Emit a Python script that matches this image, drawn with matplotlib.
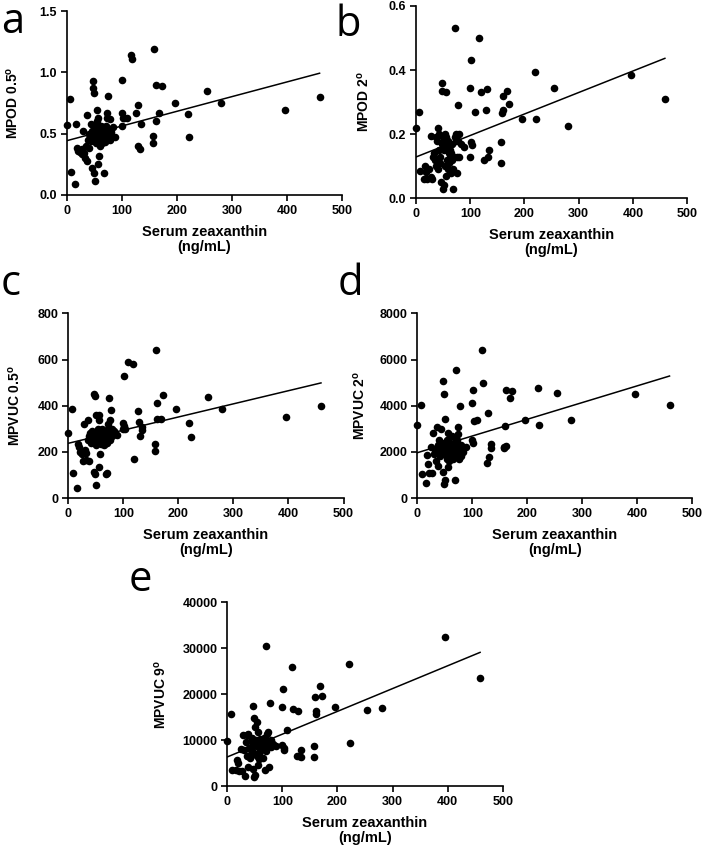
import numpy as np
import matplotlib
matplotlib.use('Agg')
import matplotlib.pyplot as plt

# serum zeaxanthin (ng/mL), shared by all panels
zeaxanthin = [0, 6, 8, 15, 17, 19, 21, 24, 27, 28, 30, 32, 33, 35, 36, 37, 38, 40, 41, 42,
              43, 44, 45, 46, 47, 47, 48, 49, 50, 51, 51, 52, 53, 53, 54, 55, 56, 56, 57, 58,
              59, 60, 60, 61, 62, 63, 64, 65, 66, 67, 68, 69, 70, 71, 72, 73, 74, 75, 76, 77,
              78, 79, 80, 83, 88,
              100, 100, 101, 102, 103, 109, 117, 119, 126, 129, 130, 133, 134,
              157, 157, 159, 161, 161, 168, 172, 196, 220, 222, 254, 280, 396, 459]

mpod_05 = [0.57, 0.78, 0.19, 0.09, 0.58, 0.38, 0.36, 0.35, 0.37, 0.33, 0.52, 0.34, 0.30, 0.40, 0.65, 0.28, 0.45, 0.50, 0.38, 0.47,
           0.58, 0.44, 0.52, 0.22, 0.93, 0.48, 0.87, 0.18, 0.83, 0.11, 0.45, 0.55, 0.42, 0.50, 0.60, 0.69, 0.63, 0.25, 0.46, 0.32,
           0.54, 0.40, 0.49, 0.44, 0.56, 0.47, 0.42, 0.52, 0.55, 0.45, 0.18, 0.50, 0.43, 0.56, 0.67, 0.63, 0.81, 0.47, 0.53, 0.48,
           0.62, 0.45, 0.51, 0.55, 0.47,
           0.67, 0.56, 0.94, 0.63, 0.63, 0.63, 1.14, 1.11, 0.67, 0.73, 0.40, 0.37, 0.58,
           0.48, 0.42, 1.19, 0.90, 0.60, 0.67, 0.89, 0.75, 0.66, 0.47, 0.85, 0.75, 0.69, 0.80]

mpod_2 = [0.22, 0.27, 0.085, 0.06, 0.10, 0.082, 0.06, 0.09, 0.065, 0.195, 0.06, 0.13, 0.14, 0.12, 0.19, 0.10, 0.18, 0.22, 0.09, 0.15,
          0.20, 0.11, 0.13, 0.05, 0.36, 0.17, 0.335, 0.03, 0.19, 0.04, 0.15, 0.18, 0.10, 0.16, 0.20, 0.33, 0.19, 0.07, 0.12, 0.09,
          0.18, 0.11, 0.14, 0.17, 0.13, 0.15, 0.08, 0.14, 0.17, 0.12, 0.03, 0.09, 0.13, 0.53, 0.19, 0.18, 0.20, 0.08, 0.13, 0.29,
          0.18, 0.20, 0.13, 0.17, 0.16,
          0.345, 0.13, 0.43, 0.174, 0.166, 0.27, 0.50, 0.33, 0.12, 0.275, 0.34, 0.13, 0.15,
          0.176, 0.11, 0.267, 0.32, 0.275, 0.335, 0.295, 0.246, 0.395, 0.246, 0.345, 0.225, 0.385, 0.31]

mpvuc_05 = [281, 384, 108, 43, 236, 222, 200, 190, 160, 320, 210, 195, 165, 250, 340, 160, 270, 280, 240, 265,
            290, 255, 275, 114, 452, 255, 443, 103, 360, 57, 230, 270, 240, 285, 300, 358, 337, 135, 250, 192,
            280, 235, 260, 245, 300, 265, 230, 280, 290, 250, 103, 270, 240, 108, 320, 300, 433, 250, 340, 381,
            280, 300, 270, 290, 275,
            300, 327, 528, 310, 298, 589, 579, 171, 375, 331, 270, 309, 295,
            232, 203, 641, 411, 343, 343, 445, 385, 327, 265, 436, 385, 349, 399]

mpvuc_2 = [3150, 4015, 1060, 650, 1845, 1480, 1100, 2200, 1100, 2830, 1900, 2000, 1600, 2100, 3075, 1400, 2300, 2500, 1800, 3005,
           2200, 2400, 2000, 1120, 5060, 2100, 4495, 615, 3440, 790, 1900, 2300, 1700, 2500, 2200, 2800, 2000, 1340, 2300, 1600,
           2100, 1800, 2400, 1900, 2300, 2700, 1700, 2200, 2400, 1900, 760, 2100, 1800, 5535, 2500, 3075, 2785, 1700, 2200, 3990,
           1900, 1800, 2300, 2000, 2200,
           4130, 2500, 4700, 2380, 3320, 3390, 6400, 4990, 1510, 3680, 1770, 2350, 2180,
           2180, 2220, 3120, 4700, 2250, 4350, 4640, 3360, 4770, 3150, 4550, 3360, 4520, 4015]

mpvuc_9 = [9815, 15600, 3420, 3420, 5750, 5020, 3300, 8000, 3300, 11050, 7800, 2115, 9500, 6500, 11200, 4100, 11400, 8200, 6000, 9800,
           7000, 10500, 8500, 3800, 17380, 7500, 14700, 1960, 12870, 2500, 9000, 10000, 6500, 8800, 13960, 11800, 9500, 4500, 7000, 5800,
           9000, 7700, 10200, 8200, 9600, 8600, 6000, 9200, 10500, 8000, 3420, 8800, 7600, 30550, 11400, 9800, 11780, 4150, 9000, 17960,
           9500, 8500, 10000, 9200, 8800,
           17090, 8870, 21020, 7930, 8200, 12150, 25820, 16800, 6550, 16360, 6500, 7930, 6330,
           8650, 6330, 19270, 15780, 16290, 21750, 19560, 17240, 26470, 9310, 16510, 16870, 32510, 23560]

# letter, y data, y label, y ticks, y tick labels, axes rect, letter position, ylabel pad
panels = [
    ('a', mpod_05, 'MPOD 0.5$^\\mathregular{o}$', [0, 0.5, 1.0, 1.5], ['0.0', '0.5', '1.0', '1.5'],
     [0.095, 0.770, 0.391, 0.217], (0.001, 0.961), 14),
    ('b', mpod_2, 'MPOD 2$^\\mathregular{o}$', [0, 0.2, 0.4, 0.6], ['0.0', '0.2', '0.4', '0.6'],
     [0.591, 0.766, 0.385, 0.227], (0.477, 0.958), 12),
    ('c', mpvuc_05, 'MPVUC 0.5$^\\mathregular{o}$', [0, 200, 400, 600, 800], None,
     [0.097, 0.412, 0.391, 0.218], (0.001, 0.652), 11),
    ('d', mpvuc_2, 'MPVUC 2$^\\mathregular{o}$', [0, 2000, 4000, 6000, 8000], None,
     [0.593, 0.412, 0.390, 0.218], (0.479, 0.652), 9),
    ('e', mpvuc_9, 'MPVUC 9$^\\mathregular{o}$', [0, 10000, 20000, 30000, 40000], None,
     [0.323, 0.072, 0.391, 0.217], (0.182, 0.302), 10),
]

plt.rcParams['font.family'] = ['Liberation Sans', 'DejaVu Sans']
plt.rcParams['font.weight'] = 'bold'

fig = plt.figure(figsize=(7.04, 8.47), dpi=100)
x = np.array(zeaxanthin)

for letter, yvals, ylab, yticks, yticklabels, pos, lpos, ypad in panels:
    ax = fig.add_axes(pos)
    y = np.array(yvals)
    ax.scatter(x, y, s=30, color='black', zorder=3, clip_on=False, linewidths=0)
    # linear regression line
    slope, icpt = np.polyfit(x, y, 1)
    xx = np.array([0, x.max()])
    ax.plot(xx, icpt + slope * xx, color='black', lw=1.1)
    ax.set_xlim(0, 500)
    ax.set_ylim(0, yticks[-1])
    ax.set_xticks([0, 100, 200, 300, 400, 500])
    ax.set_yticks(yticks)
    if yticklabels:
        ax.set_yticklabels(yticklabels)
    for s in ['top', 'right']:
        ax.spines[s].set_visible(False)
    for s in ['left', 'bottom']:
        ax.spines[s].set_linewidth(1.2)
    ax.tick_params(width=1.2, length=4.5, labelsize=9, pad=2.5)
    ax.set_xlabel('Serum zeaxanthin\n(ng/mL)', fontsize=10.5, fontweight='bold', labelpad=6, linespacing=1.1)
    ax.set_ylabel(ylab, fontsize=10, fontweight='bold', labelpad=ypad)
    fig.text(lpos[0], lpos[1], letter, fontsize=30, fontweight='normal', family='Open Sans',
             va='baseline', ha='left')

fig.savefig('out.png', dpi=100)
